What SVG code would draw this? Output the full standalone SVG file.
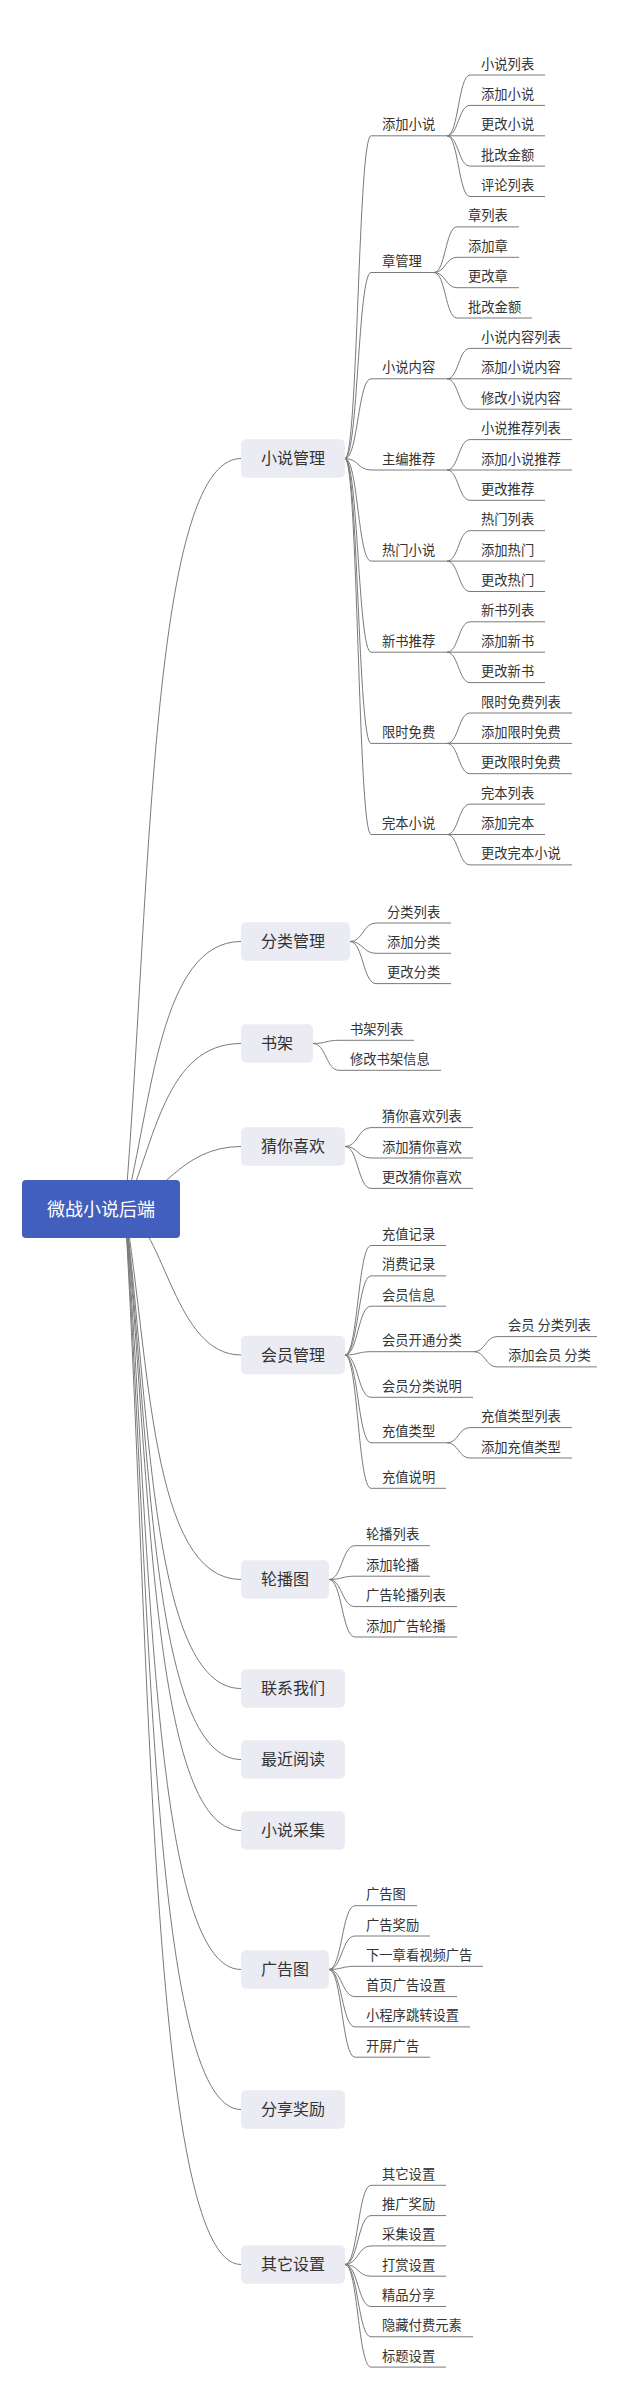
<svg xmlns="http://www.w3.org/2000/svg" width="619" height="2388" viewBox="0 0 619 2388">
<style>
.ln{fill:none;stroke:#7a7a7a;stroke-width:1}
.t{font-family:"Noto Sans CJK SC","Noto Sans",sans-serif;font-size:13.3px;fill:#333}
.b{fill:#EBECF3}
.bt{font-family:"Noto Sans CJK SC","Noto Sans",sans-serif;font-size:16px;fill:#333;text-anchor:middle}
.rt{font-family:"Noto Sans CJK SC","Noto Sans",sans-serif;font-size:18px;fill:#fff;text-anchor:middle}
</style>
<rect width="619" height="2388" fill="#fff"/>
<g id="connectors" class="ln">
<!-- root to level 1 -->
<path d="M125 1209C150 908.8 150 458.5 241 458.5"/>
<path d="M125 1209C152 1102 160 941.5 241 941.5"/>
<path d="M125 1209C155 1142.8 165 1043.5 241 1043.5"/>
<path d="M125 1209C160 1200 180 1146.5 241 1146.5"/>
<path d="M125 1209C165 1230 175 1355 241 1355"/>
<path d="M125 1209C150 1357.2 150 1579.5 241 1579.5"/>
<path d="M125 1209C150 1400.8 150 1688.5 241 1688.5"/>
<path d="M125 1209C150 1429.2 150 1759.5 241 1759.5"/>
<path d="M125 1209C150 1457.6 150 1830.5 241 1830.5"/>
<path d="M125 1209C150 1513.2 150 1969.5 241 1969.5"/>
<path d="M125 1209C150 1569.2 150 2109.5 241 2109.5"/>
<path d="M125 1209C150 1631.2 150 2264.5 241 2264.5"/>
<!-- 小说管理 -->
<path d="M345 458.5C358 458.5 358 135.8 371 135.8H447"/>
<path d="M345 458.5C358 458.5 358 272.5 371 272.5H434"/>
<path d="M345 458.5C358 458.5 358 378.8 371 378.8H447"/>
<path d="M345 458.5C358 458.5 358 470 371 470H447"/>
<path d="M345 458.5C358 458.5 358 561.1 371 561.1H447"/>
<path d="M345 458.5C358 458.5 358 652.2 371 652.2H447"/>
<path d="M345 458.5C358 458.5 358 743.4 371 743.4H447"/>
<path d="M345 458.5C358 458.5 358 834.5 371 834.5H447"/>
<path d="M447 135.8C458.5 135.8 458.5 75 470 75H545"/>
<path d="M447 135.8C458.5 135.8 458.5 105.4 470 105.4H545"/>
<path d="M447 135.8H545"/>
<path d="M447 135.8C458.5 135.8 458.5 166.1 470 166.1H545"/>
<path d="M447 135.8C458.5 135.8 458.5 196.5 470 196.5H545"/>
<path d="M434 272.5C445.5 272.5 445.5 226.9 457 226.9H519"/>
<path d="M434 272.5C445.5 272.5 445.5 257.3 457 257.3H519"/>
<path d="M434 272.5C445.5 272.5 445.5 287.7 457 287.7H519"/>
<path d="M434 272.5C445.5 272.5 445.5 318 457 318H532"/>
<path d="M447 378.8C458.5 378.8 458.5 348.4 470 348.4H572"/>
<path d="M447 378.8H572"/>
<path d="M447 378.8C458.5 378.8 458.5 409.2 470 409.2H572"/>
<path d="M447 470C458.5 470 458.5 439.6 470 439.6H572"/>
<path d="M447 470H572"/>
<path d="M447 470C458.5 470 458.5 500.3 470 500.3H545"/>
<path d="M447 561.1C458.5 561.1 458.5 530.7 470 530.7H545"/>
<path d="M447 561.1H545"/>
<path d="M447 561.1C458.5 561.1 458.5 591.5 470 591.5H545"/>
<path d="M447 652.2C458.5 652.2 458.5 621.8 470 621.8H545"/>
<path d="M447 652.2H545"/>
<path d="M447 652.2C458.5 652.2 458.5 682.6 470 682.6H545"/>
<path d="M447 743.4C458.5 743.4 458.5 713 470 713H572"/>
<path d="M447 743.4H572"/>
<path d="M447 743.4C458.5 743.4 458.5 773.7 470 773.7H572"/>
<path d="M447 834.5C458.5 834.5 458.5 804.1 470 804.1H545"/>
<path d="M447 834.5H545"/>
<path d="M447 834.5C458.5 834.5 458.5 864.9 470 864.9H572"/>
<!-- 分类管理 -->
<path d="M350 941.5C363 941.5 363 923 376 923H451"/>
<path d="M350 941.5C363 941.5 363 953.3 376 953.3H451"/>
<path d="M350 941.5C363 941.5 363 983.6 376 983.6H451"/>
<!-- 书架 -->
<path d="M313 1043.5C326 1043.5 326 1040.3 339 1040.3H414"/>
<path d="M313 1043.5C326 1043.5 326 1070.3 339 1070.3H441"/>
<!-- 猜你喜欢 -->
<path d="M345 1146.5C358 1146.5 358 1127.6 371 1127.6H473"/>
<path d="M345 1146.5C358 1146.5 358 1158 371 1158H473"/>
<path d="M345 1146.5C358 1146.5 358 1188.4 371 1188.4H473"/>
<!-- 会员管理 -->
<path d="M345 1355C358 1355 358 1245.5 371 1245.5H446"/>
<path d="M345 1355C358 1355 358 1275.9 371 1275.9H446"/>
<path d="M345 1355C358 1355 358 1306.2 371 1306.2H446"/>
<path d="M345 1355C358 1355 358 1351.7 371 1351.7H474"/>
<path d="M345 1355C358 1355 358 1397.3 371 1397.3H473"/>
<path d="M345 1355C358 1355 358 1442.8 371 1442.8H447"/>
<path d="M345 1355C358 1355 358 1488.3 371 1488.3H446"/>
<path d="M474 1351.7C485.5 1351.7 485.5 1336.6 497 1336.6H597"/>
<path d="M474 1351.7C485.5 1351.7 485.5 1366.9 497 1366.9H597"/>
<path d="M447 1442.8C458.5 1442.8 458.5 1427.6 470 1427.6H572"/>
<path d="M447 1442.8C458.5 1442.8 458.5 1458 470 1458H572"/>
<!-- 轮播图 -->
<path d="M329 1579.5C342 1579.5 342 1545.7 355 1545.7H430"/>
<path d="M329 1579.5C342 1579.5 342 1576.2 355 1576.2H430"/>
<path d="M329 1579.5C342 1579.5 342 1606.6 355 1606.6H457"/>
<path d="M329 1579.5C342 1579.5 342 1637 355 1637H457"/>
<!-- 广告图 -->
<path d="M329 1969.5C342 1969.5 342 1905.7 355 1905.7H417"/>
<path d="M329 1969.5C342 1969.5 342 1936 355 1936H430"/>
<path d="M329 1969.5C342 1969.5 342 1966.3 355 1966.3H483"/>
<path d="M329 1969.5C342 1969.5 342 1996.6 355 1996.6H457"/>
<path d="M329 1969.5C342 1969.5 342 2026.9 355 2026.9H470"/>
<path d="M329 1969.5C342 1969.5 342 2057.2 355 2057.2H430"/>
<!-- 其它设置 -->
<path d="M345 2264.5C358 2264.5 358 2185.3 371 2185.3H446"/>
<path d="M345 2264.5C358 2264.5 358 2215.6 371 2215.6H446"/>
<path d="M345 2264.5C358 2264.5 358 2245.9 371 2245.9H446"/>
<path d="M345 2264.5C358 2264.5 358 2276.2 371 2276.2H446"/>
<path d="M345 2264.5C358 2264.5 358 2306.5 371 2306.5H446"/>
<path d="M345 2264.5C358 2264.5 358 2336.8 371 2336.8H473"/>
<path d="M345 2264.5C358 2264.5 358 2367.1 371 2367.1H446"/>
</g>
<g id="root"><rect x="22" y="1180" width="158" height="58" rx="4" fill="#425FBD"/><text class="rt" x="101" y="1215.5">微战小说后端</text></g>
<g id="n-xsgl"><rect class="b" x="241" y="439.25" width="104" height="38.5" rx="5"/><text class="bt" x="293" y="464.3">小说管理</text></g>
<g id="n-tjxs" class="t"><text x="382" y="129.3">添加小说</text><text x="481" y="68.5">小说列表</text><text x="481" y="98.9">添加小说</text><text x="481" y="129.3">更改小说</text><text x="481" y="159.6">批改金额</text><text x="481" y="190">评论列表</text></g>
<g id="n-zgl" class="t"><text x="382" y="266">章管理</text><text x="468" y="220.4">章列表</text><text x="468" y="250.8">添加章</text><text x="468" y="281.2">更改章</text><text x="468" y="311.5">批改金额</text></g>
<g id="n-xsnr" class="t"><text x="382" y="372.3">小说内容</text><text x="481" y="341.9">小说内容列表</text><text x="481" y="372.3">添加小说内容</text><text x="481" y="402.7">修改小说内容</text></g>
<g id="n-zbtj" class="t"><text x="382" y="463.5">主编推荐</text><text x="481" y="433.1">小说推荐列表</text><text x="481" y="463.5">添加小说推荐</text><text x="481" y="493.8">更改推荐</text></g>
<g id="n-rmxs" class="t"><text x="382" y="554.6">热门小说</text><text x="481" y="524.2">热门列表</text><text x="481" y="554.6">添加热门</text><text x="481" y="585">更改热门</text></g>
<g id="n-xstj" class="t"><text x="382" y="645.7">新书推荐</text><text x="481" y="615.3">新书列表</text><text x="481" y="645.7">添加新书</text><text x="481" y="676.1">更改新书</text></g>
<g id="n-xsmf" class="t"><text x="382" y="736.9">限时免费</text><text x="481" y="706.5">限时免费列表</text><text x="481" y="736.9">添加限时免费</text><text x="481" y="767.2">更改限时免费</text></g>
<g id="n-wbxs" class="t"><text x="382" y="828">完本小说</text><text x="481" y="797.6">完本列表</text><text x="481" y="828">添加完本</text><text x="481" y="858.4">更改完本小说</text></g>
<g id="n-flgl"><rect class="b" x="241" y="922.25" width="109" height="38.5" rx="5"/><text class="bt" x="293" y="947.3">分类管理</text><g class="t"><text x="387" y="916.5">分类列表</text><text x="387" y="946.8">添加分类</text><text x="387" y="977.1">更改分类</text></g></g>
<g id="n-sj"><rect class="b" x="241" y="1024.25" width="72" height="38.5" rx="5"/><text class="bt" x="277" y="1049.3">书架</text><g class="t"><text x="350" y="1033.8">书架列表</text><text x="350" y="1063.8">修改书架信息</text></g></g>
<g id="n-cnxh"><rect class="b" x="241" y="1127.25" width="104" height="38.5" rx="5"/><text class="bt" x="293" y="1152.3">猜你喜欢</text><g class="t"><text x="382" y="1121.1">猜你喜欢列表</text><text x="382" y="1151.5">添加猜你喜欢</text><text x="382" y="1181.9">更改猜你喜欢</text></g></g>
<g id="n-hygl"><rect class="b" x="241" y="1335.75" width="104" height="38.5" rx="5"/><text class="bt" x="293" y="1360.8">会员管理</text><g class="t"><text x="382" y="1239">充值记录</text><text x="382" y="1269.4">消费记录</text><text x="382" y="1299.7">会员信息</text><text x="382" y="1345.2">会员开通分类</text><text x="508" y="1330.1">会员 分类列表</text><text x="508" y="1360.4">添加会员 分类</text><text x="382" y="1390.8">会员分类说明</text><text x="382" y="1436.3">充值类型</text><text x="481" y="1421.1">充值类型列表</text><text x="481" y="1451.5">添加充值类型</text><text x="382" y="1481.8">充值说明</text></g></g>
<g id="n-lbt"><rect class="b" x="241" y="1560.25" width="88" height="38.5" rx="5"/><text class="bt" x="285" y="1585.3">轮播图</text><g class="t"><text x="366" y="1539.2">轮播列表</text><text x="366" y="1569.7">添加轮播</text><text x="366" y="1600.1">广告轮播列表</text><text x="366" y="1630.5">添加广告轮播</text></g></g>
<g id="n-lxwm"><rect class="b" x="241" y="1669.25" width="104" height="38.5" rx="5"/><text class="bt" x="293" y="1694.3">联系我们</text></g>
<g id="n-zjyd"><rect class="b" x="241" y="1740.25" width="104" height="38.5" rx="5"/><text class="bt" x="293" y="1765.3">最近阅读</text></g>
<g id="n-xscj"><rect class="b" x="241" y="1811.25" width="104" height="38.5" rx="5"/><text class="bt" x="293" y="1836.3">小说采集</text></g>
<g id="n-ggt"><rect class="b" x="241" y="1950.25" width="88" height="38.5" rx="5"/><text class="bt" x="285" y="1975.3">广告图</text><g class="t"><text x="366" y="1899.2">广告图</text><text x="366" y="1929.5">广告奖励</text><text x="366" y="1959.8">下一章看视频广告</text><text x="366" y="1990.1">首页广告设置</text><text x="366" y="2020.4">小程序跳转设置</text><text x="366" y="2050.7">开屏广告</text></g></g>
<g id="n-fxjl"><rect class="b" x="241" y="2090.25" width="104" height="38.5" rx="5"/><text class="bt" x="293" y="2115.3">分享奖励</text></g>
<g id="n-qtsz"><rect class="b" x="241" y="2245.25" width="104" height="38.5" rx="5"/><text class="bt" x="293" y="2270.3">其它设置</text><g class="t"><text x="382" y="2178.8">其它设置</text><text x="382" y="2209.1">推广奖励</text><text x="382" y="2239.4">采集设置</text><text x="382" y="2269.7">打赏设置</text><text x="382" y="2300">精品分享</text><text x="382" y="2330.3">隐藏付费元素</text><text x="382" y="2360.6">标题设置</text></g></g>
</svg>
